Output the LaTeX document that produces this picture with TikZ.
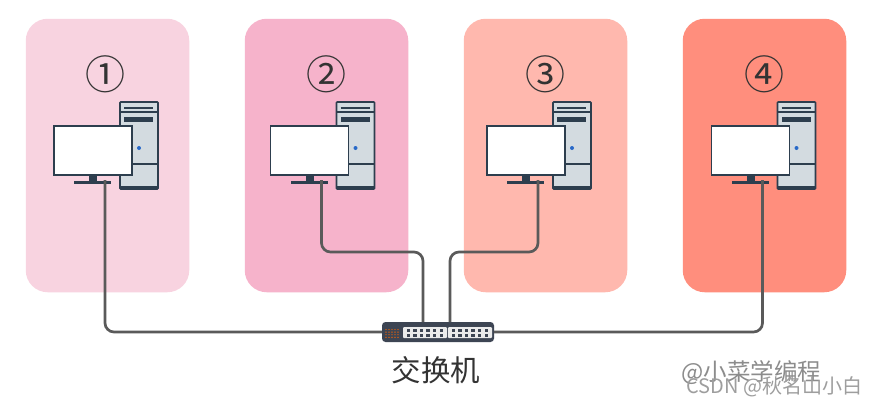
\documentclass[tikz,border=0pt]{standalone}
\usepackage{fontspec}
\newfontfamily\cjk{Noto Sans CJK SC}
\definecolor{panelone}{RGB}{248, 211, 224}
\definecolor{paneltwo}{RGB}{246, 179, 203}
\definecolor{panelthree}{RGB}{255, 184, 174}
\definecolor{panelfour}{RGB}{255, 142, 125}
\definecolor{pcdark}{RGB}{45, 62, 78}
\definecolor{pcbody}{RGB}{211, 219, 224}
\definecolor{wiregray}{RGB}{90, 90, 90}
\definecolor{switchdark}{RGB}{61, 69, 83}
\definecolor{leddot}{RGB}{40, 105, 200}
\usetikzlibrary{positioning}

\tikzset{
  panelbox/.style={minimum width=163.5pt, minimum height=273.5pt, rounded corners=22pt, inner sep=0pt},
  wire/.style={draw=wiregray, line width=2.7pt, rounded corners=9pt},
  switchbox/.style={fill=switchdark, minimum width=112pt, minimum height=20pt, rounded corners=3.5pt, inner sep=0pt},
  pcscreen/.style={draw=pcdark, fill=white, line width=1.5pt, minimum width=78pt, minimum height=49pt, inner sep=0pt},
  pcunit/.pic={
    % tower first, the screen overlaps it
    \draw[pcdark, fill=pcbody, line width=1.6pt, rounded corners=0.8pt] (67,-23) rectangle (105,64);
    \fill[pcdark] (67,61) rectangle (105,64);
    \draw[pcdark, line width=1.1pt] (67,-13) -- (105,-13);
    \draw[pcdark, line width=2pt] (71,-17.5) -- (100,-17.5);
    \fill[pcdark] (71,-8.5) rectangle (100,-3.5);
    \draw[pcdark, line width=1.1pt] (67,39) -- (105,39);
    \fill[leddot] (86,23) circle (2pt);
    \fill[pcdark] (36,48) rectangle (44,56);
    \fill[pcdark] (21,55.5) rectangle (58,58.5);
    \node[pcscreen, anchor=north west] (-screen) at (0,0) {};
    \coordinate (-port) at (52,55);
  }
}

\begin{document}
\begin{tikzpicture}[x=1pt, y=-1pt]
  \useasboundingbox (0,0) rectangle (873,405);
  \fill[white] (0,0) rectangle (873,405);

  % the four hosts
  \foreach \idx/\px/\col/\mark/\nx/\mx in {1/107.5/panelone/①/105/53, 2/326.5/paneltwo/②/326/269.5, 3/545.5/panelthree/③/545/486, 4/764.5/panelfour/④/764/710.5} {
    \node[panelbox, fill=\col] (panel\idx) at (\px,155.5) {};
    \node[font=\cjk\fontsize{40}{40}\selectfont, text=black!80] (num\idx) at (\nx,74) {\mark};
    \pic (pc\idx) at (\mx,125) {pcunit};
  }

  \node[switchbox] (switch) at (438,332) {};
  \foreach \bx in {403, 448} {
    \fill[white!92!black, rounded corners=1pt] (\bx,327) rectangle (\bx+44,338);
    \foreach \i in {0,...,5} {
      \fill[switchdark] (\bx+3.5+\i*6.6,329) rectangle (\bx+7+\i*6.6,331.5);
      \fill[switchdark] (\bx+3.5+\i*6.6,333.5) rectangle (\bx+7+\i*6.6,336.5);
    }
  }
  \foreach \ledx in {0,...,4} {
    \foreach \ledy in {0,...,3} {
      \fill[orange!80!red] (386+\ledx*3,329.5+\ledy*2.6) circle (0.7pt);
    }
  }

  \coordinate (topleft) at (423,322);
  \coordinate (topright) at (450,322);

  \draw[wire] (pc1-port) |- (switch.west);
  \draw[wire] (pc2-port) |- (423,252) -- (topleft);
  \draw[wire] (pc3-port) |- (450,252) -- (topright);
  \draw[wire] (pc4-port) |- (switch.east);

  \node[font=\cjk\fontsize{29.5}{29.5}\selectfont, text=black!80, below=11pt of switch.south, xshift=-2pt] (switchlabel) {交换机};

  \node[font=\cjk\fontsize{23.5}{23.5}\selectfont, text=black!45, anchor=west] (markone) at (678,373) {@小菜学编程};
  \node[font=\cjk\fontsize{20}{20}\selectfont, text=black!38, anchor=west] (marktwo) at (683,387) {CSDN @秋名山小白};
\end{tikzpicture}
\end{document}
